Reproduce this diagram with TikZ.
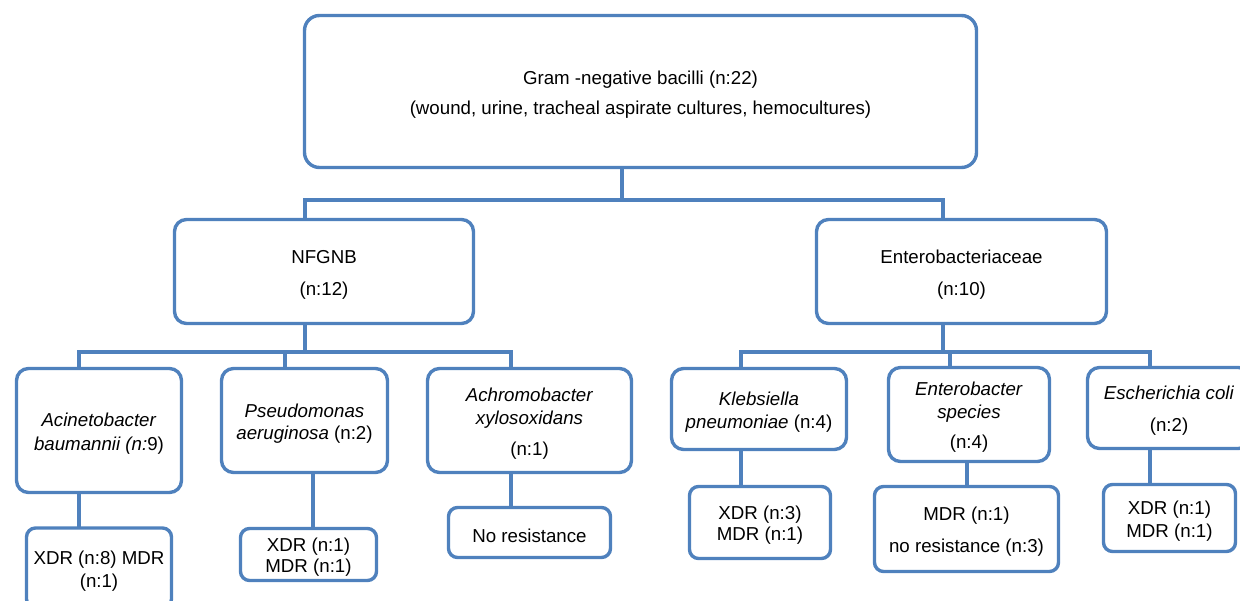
\documentclass[tikz,border=0pt]{standalone}
\usepackage{fontspec}
\setmainfont{Liberation Sans}
\definecolor{boxblue}{HTML}{4F81BD}
\newcommand{\tstr}{\rule{0pt}{19.8pt}}
\begin{document}
\begin{tikzpicture}[x=1pt,y=-1pt,
  box/.style={draw=boxblue, line width=3.4pt, fill=white, rounded corners=12pt,
    align=center, inner sep=0pt, outer sep=0pt, text=black,
    font=\fontsize{18.7}{22.5}\selectfont},
  link/.style={draw=boxblue, line width=3.4pt, line join=miter}]
\useasboundingbox (0,0) rectangle (1240,601);
\clip (0,0) rectangle (1240,601);
% coordinates of junctions
\coordinate (j0) at (622,200);
\coordinate (b1L) at (305,200);
\coordinate (b1R) at (943,200);
\coordinate (j1) at (305,352);
\coordinate (b2L) at (79,352);
\coordinate (b2R) at (511,352);
\coordinate (j2) at (285,352);
\coordinate (j3) at (943,352);
\coordinate (b3L) at (741,352);
\coordinate (b3R) at (1150,352);
\coordinate (j4) at (950,352);
\coordinate (vP) at (313,0);
\coordinate (vE) at (967,0);
% nodes
\node[box, rounded corners=15pt, minimum width=672pt, minimum height=152pt] (top) at (640.5,91.5)
  {\tstr Gram -negative bacilli (n:22)\\[7.5pt](wound, urine, tracheal aspirate cultures, hemocultures)};
\node[box, minimum width=299pt, minimum height=104pt] (nfgnb) at (324,271.5)
  {\tstr NFGNB\\[9.5pt](n:12)};
\node[box, minimum width=290pt, minimum height=104pt] (entero) at (961.5,271.5)
  {\tstr Enterobacteriaceae\\[9.5pt](n:10)};
\node[box, minimum width=165pt, minimum height=124pt] (acin) at (99,430.5)
  {\tstr\textit{Acinetobacter}\\[1pt]\textit{baumannii (n:}9)};
\node[box, minimum width=166pt, minimum height=104pt] (pseudo) at (304.5,420.5)
  {\tstr\textit{Pseudomonas}\\\textit{aeruginosa} (n:2)};
\node[box, minimum width=204pt, minimum height=104pt] (achro) at (529.5,420.5)
  {\tstr\textit{Achromobacter}\\[1pt]\textit{xylosoxidans}\\[8pt](n:1)};
\node[box, minimum width=175pt, minimum height=81pt] (kleb) at (759,409)
  {\tstr\textit{Klebsiella}\\[1pt]\textit{pneumoniae} (n:4)};
\node[box, minimum width=161pt, minimum height=94pt] (enterob) at (969,414.5)
  {\tstr\textit{Enterobacter}\\\textit{species}\\[8pt](n:4)};
\node[box, minimum width=163pt, minimum height=81pt] (ecoli) at (1169,408)
  {\tstr\textit{Escherichia coli}\\[9.5pt](n:2)};
\node[box, rounded corners=9pt, minimum width=145pt, minimum height=80pt] (acinR) at (99,568)
  {\tstr XDR (n:8) MDR\\(n:1)};
\node[box, rounded corners=9pt, minimum width=136pt, minimum height=52pt] (pseudoR) at (308.5,554.5)
  {\tstr XDR (n:1)\\[-1.5pt]MDR (n:1)};
\node[box, rounded corners=9pt, minimum width=162pt, minimum height=50pt] (achroR) at (529.5,532.5)
  {\tstr No resistance};
\node[box, rounded corners=9pt, minimum width=141pt, minimum height=72pt] (klebR) at (760,522.5)
  {\tstr XDR (n:3)\\[-1.5pt]MDR (n:1)};
\node[box, rounded corners=9pt, minimum width=184pt, minimum height=85pt] (enterobR) at (966.5,529)
  {\tstr MDR (n:1)\\[9.5pt]no resistance (n:3)};
\node[box, rounded corners=9pt, minimum width=132pt, minimum height=67pt] (ecoliR) at (1169.5,518)
  {\tstr XDR (n:1)\\MDR (n:1)};
% connectors
\draw[link] (top.south -| j0) -- (j0);
\draw[link] (nfgnb.north -| b1L) -- (b1L) -- (b1R) -- (entero.north -| b1R);
\draw[link] (nfgnb.south -| j1) -- (j1);
\draw[link] (acin.north -| b2L) -- (b2L) -- (b2R) -- (achro.north -| b2R);
\draw[link] (j2) -- (pseudo.north -| j2);
\draw[link] (entero.south -| j3) -- (j3);
\draw[link] (kleb.north -| b3L) -- (b3L) -- (b3R) -- (ecoli.north -| b3R);
\draw[link] (j4) -- (enterob.north -| j4);
\draw[link] (acin.south -| b2L) -- (acinR.north -| b2L);
\draw[link] (pseudo.south -| vP) -- (pseudoR.north -| vP);
\draw[link] (achro.south -| b2R) -- (achroR.north -| b2R);
\draw[link] (kleb.south -| b3L) -- (klebR.north -| b3L);
\draw[link] (enterob.south -| vE) -- (enterobR.north -| vE);
\draw[link] (ecoli.south -| b3R) -- (ecoliR.north -| b3R);
\end{tikzpicture}
\end{document}
